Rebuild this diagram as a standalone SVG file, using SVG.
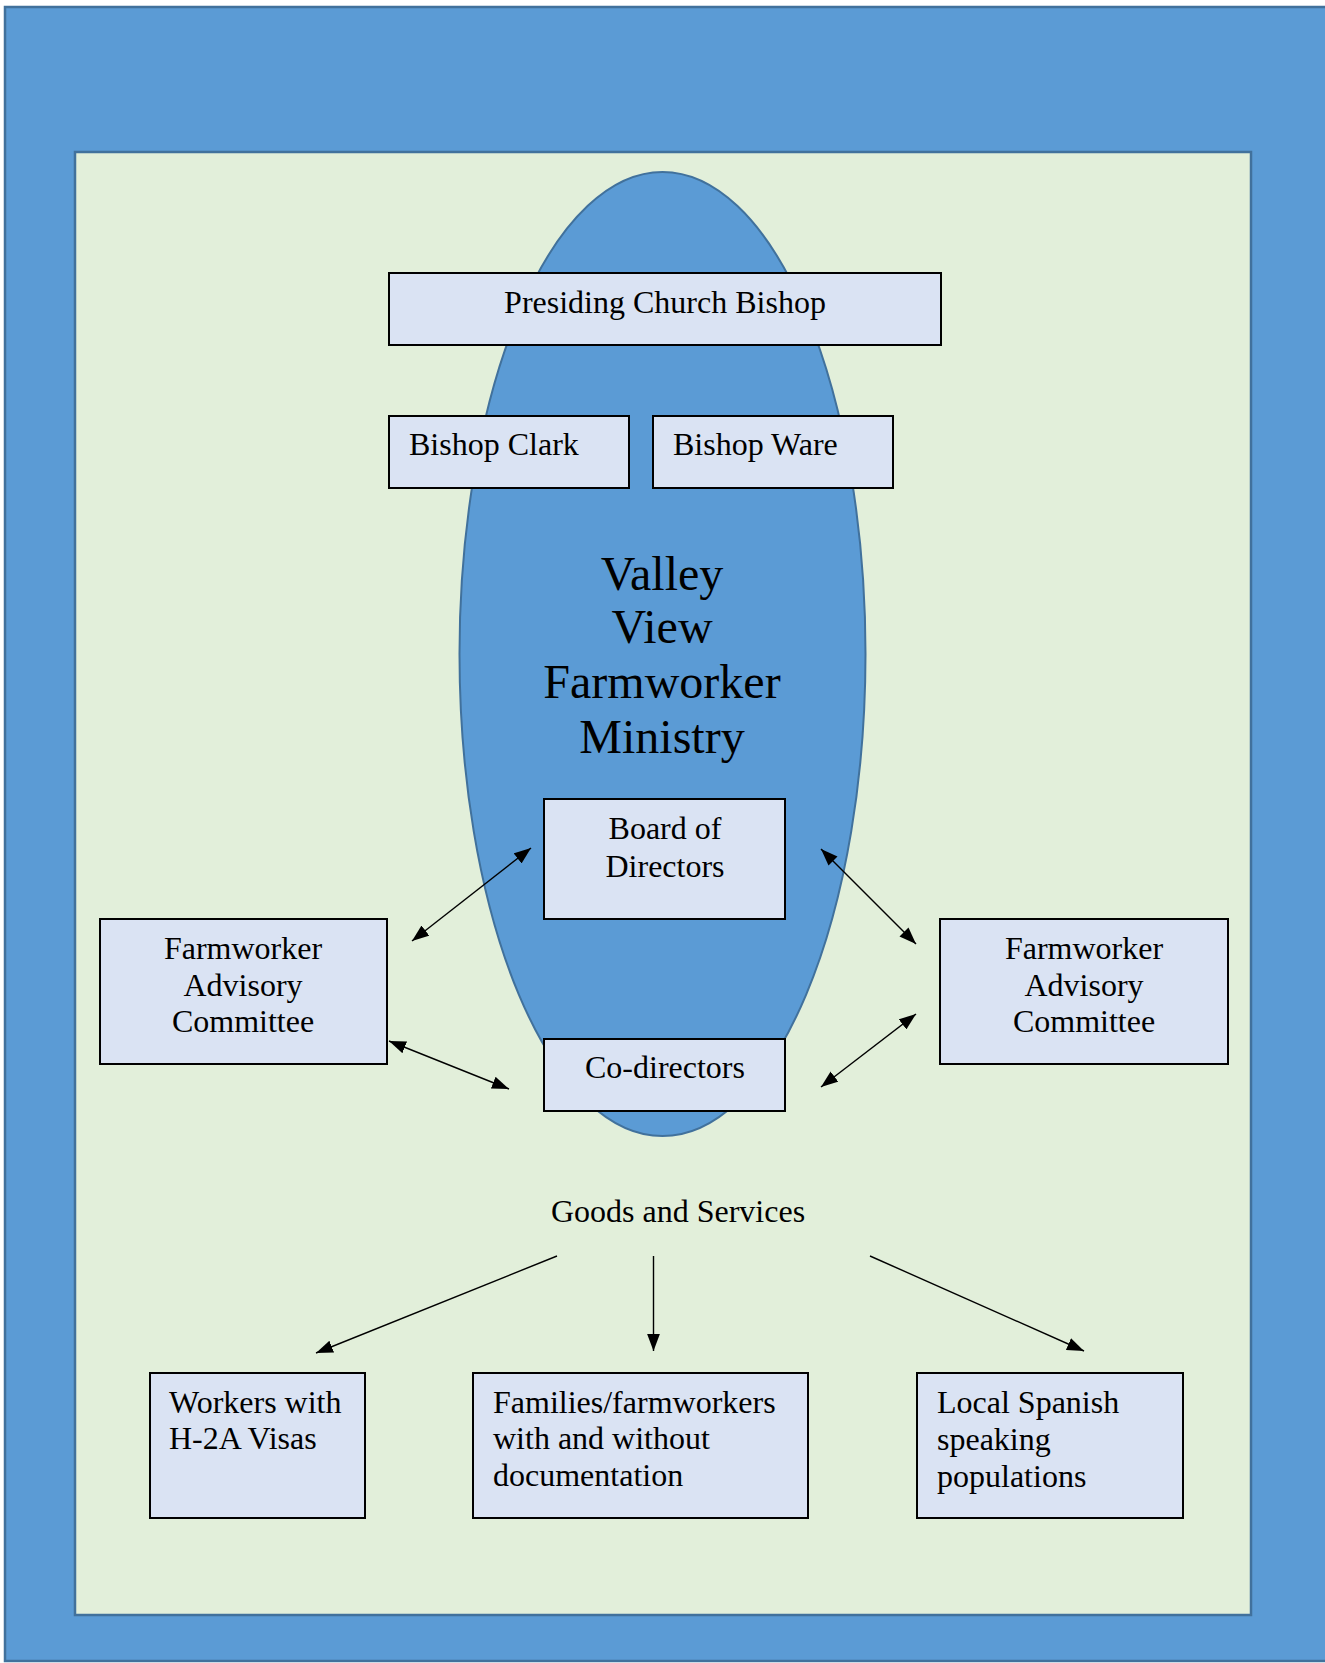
<svg xmlns="http://www.w3.org/2000/svg" width="1325" height="1663" viewBox="0 0 1325 1663">
<style>
.box{fill:#dae3f3;stroke:#000;stroke-width:2}
.t{font-family:"Liberation Serif","Times New Roman",serif;font-size:32px;fill:#000}
.c{text-anchor:middle}
.big{font-size:48px}
.ln{stroke:#000;stroke-width:1.4;fill:none}
.dbl{marker-start:url(#ah);marker-end:url(#ah)}
.one{marker-end:url(#ah)}
</style>
<defs>
<marker id="ah" viewBox="0 0 16 12" refX="16" refY="6" markerWidth="17" markerHeight="13" markerUnits="userSpaceOnUse" orient="auto-start-reverse">
<path d="M0,0 L16,6 L0,12 z" fill="#000"/>
</marker>
</defs>
<g id="background">
<rect x="5" y="7" width="1330" height="1654" fill="#5b9bd5" stroke="#41719c" stroke-width="2.5"/>
<rect x="75" y="152" width="1176" height="1463" fill="#e2efda" stroke="#41719c" stroke-width="2.5"/>
</g>
<g id="ministry">
<ellipse cx="662.5" cy="654" rx="203" ry="482" fill="#5b9bd5" stroke="#41719c" stroke-width="2"/>
<text class="t c big" x="662" y="590">Valley</text>
<text class="t c big" x="662" y="643">View</text>
<text class="t c big" x="662" y="698">Farmworker</text>
<text class="t c big" x="662" y="753">Ministry</text>
</g>
<g id="presiding">
<rect class="box" x="389" y="273" width="552" height="72"/>
<text class="t c" x="665" y="313">Presiding Church Bishop</text>
</g>
<g id="bishop-clark">
<rect class="box" x="389" y="416" width="240" height="72"/>
<text class="t" x="409" y="455">Bishop Clark</text>
</g>
<g id="bishop-ware">
<rect class="box" x="653" y="416" width="240" height="72"/>
<text class="t" x="673" y="455">Bishop Ware</text>
</g>
<g id="board">
<rect class="box" x="544" y="799" width="241" height="120"/>
<text class="t c" x="665" y="839">Board of</text>
<text class="t c" x="665" y="877">Directors</text>
</g>
<g id="codirectors">
<rect class="box" x="544" y="1039" width="241" height="72"/>
<text class="t c" x="665" y="1078">Co-directors</text>
</g>
<g id="fac-left">
<rect class="box" x="100" y="919" width="287" height="145"/>
<text class="t c" x="243" y="959">Farmworker</text>
<text class="t c" x="243" y="996">Advisory</text>
<text class="t c" x="243" y="1032">Committee</text>
</g>
<g id="fac-right">
<rect class="box" x="940" y="919" width="288" height="145"/>
<text class="t c" x="1084" y="959">Farmworker</text>
<text class="t c" x="1084" y="996">Advisory</text>
<text class="t c" x="1084" y="1032">Committee</text>
</g>
<g id="goods">
<text class="t c" x="678" y="1222">Goods and Services</text>
</g>
<g id="workers">
<rect class="box" x="150" y="1373" width="215" height="145"/>
<text class="t" x="169" y="1413">Workers with</text>
<text class="t" x="169" y="1449">H-2A Visas</text>
</g>
<g id="families">
<rect class="box" x="473" y="1373" width="335" height="145"/>
<text class="t" x="493" y="1413">Families/farmworkers</text>
<text class="t" x="493" y="1449">with and without</text>
<text class="t" x="493" y="1486">documentation</text>
</g>
<g id="local">
<rect class="box" x="917" y="1373" width="266" height="145"/>
<text class="t" x="937" y="1413">Local Spanish</text>
<text class="t" x="937" y="1450">speaking</text>
<text class="t" x="937" y="1487">populations</text>
</g>
<g id="connectors">
<line class="ln dbl" x1="531" y1="848" x2="412" y2="941"/>
<line class="ln dbl" x1="389" y1="1041" x2="509" y2="1089"/>
<line class="ln dbl" x1="821" y1="849" x2="916" y2="944"/>
<line class="ln dbl" x1="821" y1="1087" x2="916" y2="1014"/>
<line class="ln one" x1="557" y1="1256" x2="316" y2="1353"/>
<line class="ln one" x1="653.5" y1="1256" x2="653.5" y2="1351"/>
<line class="ln one" x1="870" y1="1256" x2="1084" y2="1351"/>
</g>
</svg>
